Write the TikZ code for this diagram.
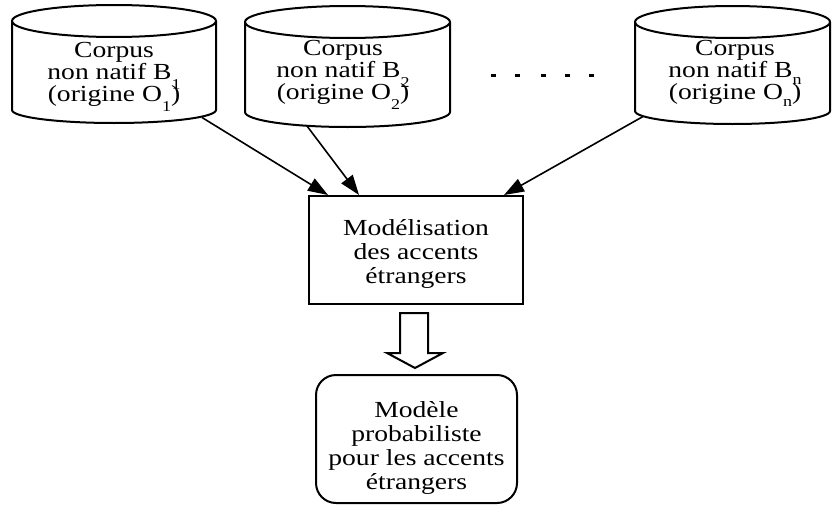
\documentclass[tikz,border=0pt]{standalone}
\usepackage{fontspec}
\setmainfont[FakeStretch=1.2]{Liberation Serif}
\usetikzlibrary{arrows.meta}
\newcommand{\sbx}[1]{\smash{\raisebox{-\height}{\fontsize{15}{15}\selectfont #1}}}
\begin{document}
\begin{tikzpicture}[x=1pt,y=-1pt,
  cyl/.style={line width=2pt},
  ctext/.style={align=center, font=\fontsize{23}{22}\selectfont, inner sep=0pt},
  box/.style={draw, line width=2pt, align=center, font=\fontsize{23}{24}\selectfont, inner sep=0pt},
  link/.style={line width=1.6pt, -{Triangle[length=20pt,width=14pt]}},
  dotsq/.style={fill=black}]
\useasboundingbox (0,0) rectangle (832,514);

% cylinder 1
\draw[cyl] (114,21) ellipse (102pt and 16pt);
\draw[cyl] (12,21) -- (12,110) arc[start angle=180,end angle=360,x radius=102pt,y radius=13pt] -- (216,21);
\node[ctext] (c1) at (114,74) {Corpus\\non natif B\sbx{1}\\(origine O\sbx{1})};
% cylinder 2
\draw[cyl] (347.5,22) ellipse (102.5pt and 16pt);
\draw[cyl] (245,22) -- (245,112) arc[start angle=180,end angle=360,x radius=102.5pt,y radius=15pt] -- (450,22);
\node[ctext] (c2) at (343,72) {Corpus\\non natif B\sbx{2}\\(origine O\sbx{2})};
% cylinder 3
\draw[cyl] (732.5,22) ellipse (97.5pt and 16pt);
\draw[cyl] (635,22) -- (635,111) arc[start angle=180,end angle=360,x radius=97.5pt,y radius=13pt] -- (830,22);
\node[ctext] (c3) at (735,72.5) {Corpus\\non natif B\sbx{n}\\(origine O\sbx{n})};

% dots
\foreach \xx in {491,515,541,565,589} \fill[dotsq] (\xx,73.5) rectangle +(4.5,3.5);

% arrow starts on cylinders
\coordinate (s1) at (202,117.5);
\coordinate (s2) at (307,126);
\coordinate (s3) at (643,116.5);

\node[box, minimum width=214pt, minimum height=108pt] (model) at (416,250)
  {\rule{0pt}{23pt}Modélisation\\des accents\\étrangers};

\draw[link] (s1) -- (model.148.5);
\draw[link] (s2) -- (model.136);
\draw[link] (s3) -- (model.32.1);

% hollow arrow
\draw[line width=2pt] (400,313) -- (428,313) -- (428,353) -- (443,353) -- (415,368) -- (387,353) -- (400,353) -- cycle;

\node[box, rounded corners=20pt, minimum width=201pt, minimum height=128pt] (prob) at (416.5,439)
  {\rule{0pt}{33pt}Modèle\\probabiliste\\pour les accents\\étrangers};
\end{tikzpicture}
\end{document}
